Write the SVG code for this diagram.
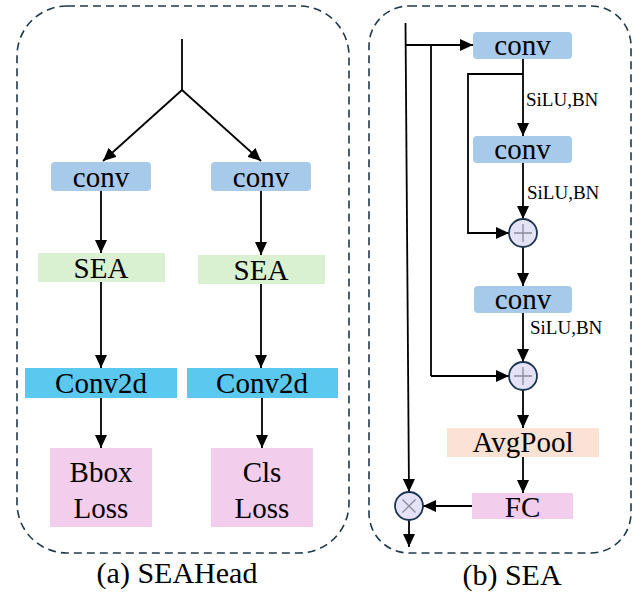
<svg xmlns="http://www.w3.org/2000/svg" width="644" height="594" viewBox="0 0 644 594">
  <style>
    .frame { fill: none; stroke: #1f3a4b; stroke-width: 1.6; stroke-dasharray: 8 5; }
    .box { stroke: none; }
    .lbl { font-size: 29px; text-anchor: middle; }
    .small { font-size: 19px; }
    .cap { font-size: 30px; text-anchor: middle; }
    .edge { fill: none; stroke: #000; stroke-width: 1.8; }
    .arr { marker-end: url(#head); }
    .op { fill: #e4e2f6; stroke: #1c3550; stroke-width: 1.8; }
    .opsign { stroke: #8a8a9a; stroke-width: 1.3; fill: none; }
  </style>
  <defs>
    <marker id="head" markerUnits="userSpaceOnUse" markerWidth="13" markerHeight="12" refX="13" refY="6" orient="auto">
      <path d="M0,0 L13,6 L0,12 z" fill="#000"/>
    </marker>
  </defs>

  <!-- panel frames -->
  <rect class="frame" x="17" y="6" width="332" height="547" rx="50" ry="50"/>
  <rect class="frame" x="369" y="6" width="262" height="547" rx="40" ry="40"/>

  <!-- connectors -->
  <g id="connectors">
    <!-- SEAHead -->
    <path class="edge" d="M182,39 L182,90"/>
    <path class="edge arr" d="M182,90 L103,161"/>
    <path class="edge arr" d="M182,90 L261,161"/>
    <path class="edge arr" d="M101,191 L101,253"/>
    <path class="edge arr" d="M261,191 L261,255"/>
    <path class="edge arr" d="M101,282 L101,368"/>
    <path class="edge arr" d="M261,284 L261,368"/>
    <path class="edge arr" d="M101,398 L101,448"/>
    <path class="edge arr" d="M262,398 L262,448"/>
    <!-- SEA -->
    <path class="edge arr" d="M405.5,23 L409,492"/>
    <path class="edge arr" d="M405.5,45 L473,45"/>
    <path class="edge" d="M431,45 L431,376"/>
    <path class="edge arr" d="M431,376 L509,376"/>
    <path class="edge arr" d="M523,59 L523,136"/>
    <path class="edge arr" d="M523,74 L468,74 L468,233 L509,233"/>
    <path class="edge arr" d="M523,163 L523,219"/>
    <path class="edge arr" d="M523,247 L523,286"/>
    <path class="edge arr" d="M523,313 L523,362"/>
    <path class="edge arr" d="M523,390 L523,428"/>
    <path class="edge arr" d="M523,457 L523,493"/>
    <path class="edge arr" d="M472,506 L423,506"/>
    <path class="edge arr" d="M409,520 L409,547"/>
  </g>

  <g font-family="Liberation Serif, Times New Roman, serif" fill="#000">
  <!-- SEAHead nodes -->
  <g id="conv-a1"><rect class="box" x="51" y="162" width="100" height="29" rx="4" fill="#a7c9ea"/><text class="lbl" x="101" y="187">conv</text></g>
  <g id="conv-a2"><rect class="box" x="211" y="162" width="100" height="29" rx="4" fill="#a7c9ea"/><text class="lbl" x="261" y="187">conv</text></g>
  <g id="sea-a1"><rect class="box" x="38" y="253" width="127" height="29" fill="#d9f1d1"/><text class="lbl" x="101" y="278">SEA</text></g>
  <g id="sea-a2"><rect class="box" x="198" y="255" width="127" height="29" fill="#d9f1d1"/><text class="lbl" x="261" y="280">SEA</text></g>
  <g id="conv2d-a1"><rect class="box" x="25" y="368" width="152" height="30" fill="#5bc8f0"/><text class="lbl" x="101" y="393">Conv2d</text></g>
  <g id="conv2d-a2"><rect class="box" x="187" y="368" width="151" height="30" fill="#5bc8f0"/><text class="lbl" x="262" y="393">Conv2d</text></g>
  <g id="bbox-loss"><rect class="box" x="50" y="448" width="102" height="79" fill="#f2cdec"/><text class="lbl" x="101" y="482">Bbox</text><text class="lbl" x="101" y="518">Loss</text></g>
  <g id="cls-loss"><rect class="box" x="211" y="448" width="102" height="79" fill="#f2cdec"/><text class="lbl" x="262" y="482">Cls</text><text class="lbl" x="262" y="518">Loss</text></g>

  <!-- SEA nodes -->
  <g id="conv-b1"><rect class="box" x="473" y="32" width="99" height="27" rx="4" fill="#a7c9ea"/><text class="lbl" x="522.5" y="55">conv</text></g>
  <g id="conv-b2"><rect class="box" x="473" y="136" width="99" height="27" rx="4" fill="#a7c9ea"/><text class="lbl" x="522.5" y="159">conv</text></g>
  <g id="conv-b3"><rect class="box" x="474" y="286" width="98" height="27" rx="4" fill="#a7c9ea"/><text class="lbl" x="523" y="309">conv</text></g>
  <g id="add-1"><circle class="op" cx="523" cy="233" r="14"/><path class="opsign" d="M514,233 H532 M523,224 V242"/></g>
  <g id="add-2"><circle class="op" cx="523" cy="376" r="14"/><path class="opsign" d="M514,376 H532 M523,367 V385"/></g>
  <g id="avgpool"><rect class="box" x="447" y="428" width="152" height="29" fill="#fbe2d5"/><text class="lbl" x="523" y="452" font-size="26">AvgPool</text></g>
  <g id="fc"><rect class="box" x="472" y="493" width="101" height="26" fill="#f2cdec"/><text class="lbl" x="522.5" y="517">FC</text></g>
  <g id="mul"><circle class="op" cx="409" cy="506" r="14"/><path class="opsign" d="M402.5,499.5 L415.5,512.5 M415.5,499.5 L402.5,512.5"/></g>

  <!-- activation labels -->
  <text class="small" x="526" y="106">SiLU,BN</text>
  <text class="small" x="527" y="199">SiLU,BN</text>
  <text class="small" x="530" y="334">SiLU,BN</text>

  <!-- captions -->
  <text class="cap" x="177" y="583">(a) SEAHead</text>
  <text class="cap" x="512" y="585">(b) SEA</text>
  </g>
</svg>
